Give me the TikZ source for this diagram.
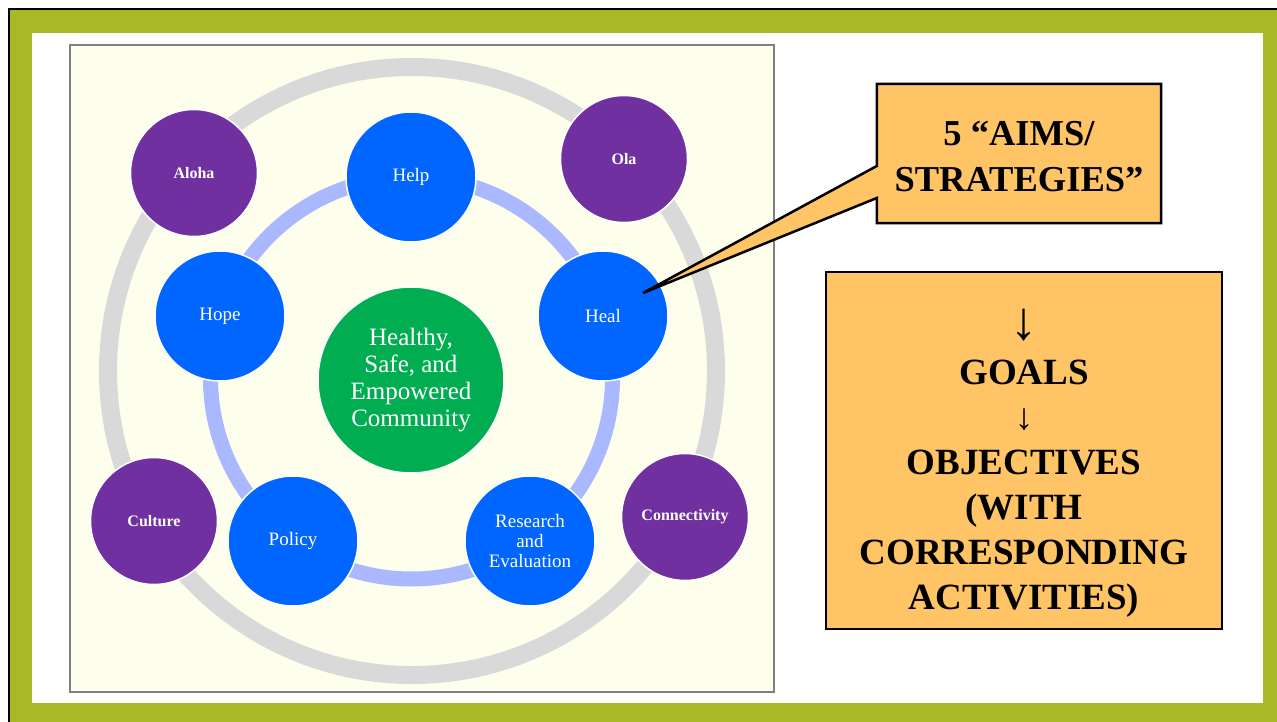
\documentclass[tikz,border=0pt]{standalone}
\usepackage{fontspec}
\setmainfont{Liberation Serif}
\usetikzlibrary{positioning}

\definecolor{slidegreen}{HTML}{A8B826}
\definecolor{cream}{HTML}{FEFEEC}
\definecolor{ringgray}{HTML}{D9D9D9}
\definecolor{ringblue}{HTML}{A9B8FF}
\definecolor{aimblue}{HTML}{0066FF}
\definecolor{valuepurple}{HTML}{7030A0}
\definecolor{coregreen}{HTML}{00AD50}
\definecolor{notefill}{HTML}{FFC465}

\tikzset{
  core/.style={circle, fill=coregreen, draw=white, line width=1.5pt, minimum size=186pt, inner sep=0pt,
    text=white, align=center, font=\fontsize{25}{27}\selectfont},
  aim/.style={circle, fill=aimblue, draw=white, line width=1.5pt, minimum size=130pt, inner sep=0pt,
    text=white, align=center, font=\fontsize{19}{20}\selectfont},
  value/.style={circle, fill=valuepurple, draw=white, line width=1.5pt, minimum size=127pt, inner sep=0pt,
    text=white, font=\bfseries\fontsize{16}{18}\selectfont},
  notebox/.style={draw=black, fill=notefill, line width=2.5pt, line join=miter},
  notetext/.style={align=center, inner sep=0pt, font=\bfseries\fontsize{36.5}{46}\selectfont}
}

\begin{document}
\begin{tikzpicture}[x=1pt,y=-1pt]
\useasboundingbox (0,0) rectangle (1277,722);
% slide frame
\draw[black, line width=2pt, fill=slidegreen] (9,9) rectangle (1290,735);
\fill[white] (32,33) rectangle (1263,703);
% picture panel
\draw[gray, line width=1.2pt, fill=cream] (70,45) rectangle (774,692);
\draw[ringgray, line width=18pt] (412,371) circle [radius=304pt];
\draw[ringblue, line width=15pt] (411.5,378) circle [radius=201pt];

\node[core] (community) at (411,380) {Healthy,\\Safe, and\\Empowered\\Community};

% the five aims
\node[aim] (help) at (411,177) {Help};
\node[aim] (hope) at (220,316) {Hope};
\node[aim] (heal) at (603,316) {Heal};
\node[aim] (policy) at (293,541) {Policy};
\node[aim] (research) at (530,541) {Research\\and\\Evaluation};

% values on the outer ring
\node[value] (aloha) at (194,173) {Aloha};
\node[value] (ola) at (624,159) {Ola};
\node[value] (culture) at (154,521) {Culture};
\node[value] (connectivity) at (685,517) {Connectivity};

% callout
\coordinate (tip) at (643,293);
\node[minimum width=284pt, minimum height=139pt] (aims) at (1019,153.5) {};
\draw[notebox] (aims.north west) -- (aims.north east) -- (aims.south east) -- (aims.south west)
  -- ([yshift=-44.5pt]aims.west) -- (tip) -- ([yshift=-12.5pt]aims.west) -- cycle;
\node[notetext] at ([yshift=-3pt]aims.center) {5 “AIMS/\\STRATEGIES”};

% goals and objectives
\node[notebox, minimum width=396pt, minimum height=357pt] (plan) at (1024,450.5) {};
\node[notetext, font=\bfseries\fontsize{37}{45}\selectfont] at ([yshift=-13pt]plan.center)
  {{\mdseries\fontsize{54}{54}\selectfont ↓}\\GOALS\\{\mdseries ↓}\\OBJECTIVES\\(WITH\\CORRESPONDING\\ACTIVITIES)};
\end{tikzpicture}
\end{document}
